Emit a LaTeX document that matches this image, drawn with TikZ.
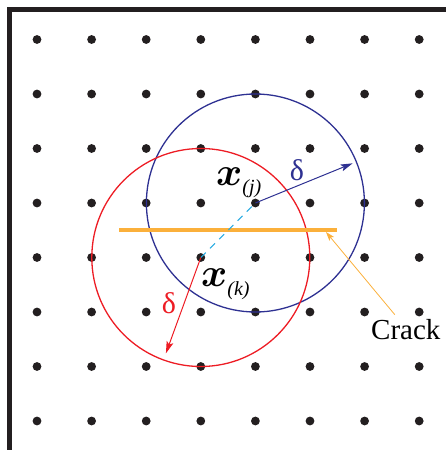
\documentclass[tikz,border=0pt]{standalone}
\usepackage{fontspec}
\setmainfont{Liberation Serif}
\usetikzlibrary{arrows.meta,calc}
\definecolor{cblue}{RGB}{46,49,146}
\definecolor{cred}{RGB}{237,28,36}
\definecolor{corange}{RGB}{251,176,59}
\definecolor{ccyan}{RGB}{39,170,225}
\definecolor{cdot}{RGB}{35,31,32}
\newcommand{\bx}{\scalebox{1.6}{\fontsize{24.88}{26}\selectfont\boldmath$x$}}
\tikzset{
  dot/.style={circle,fill=cdot,inner sep=0pt,minimum size=8.8pt},
  hoodblue/.style={draw=cblue,line width=1.3pt},
  hoodred/.style={draw=cred,line width=1.3pt},
  radarrow/.style={line width=1pt,-{Stealth[length=12pt,width=7pt,inset=2.5pt]}},
  lbl/.style={inner sep=0pt,anchor=base west},
}
\begin{document}
\begin{tikzpicture}[x=1pt,y=-1pt]
\useasboundingbox (0,0) rectangle (446,450);
% frame
\draw[line width=4.5pt,cdot] (9.3,460) -- (9.3,9.3) -- (460,9.3);
% grid of material points
\foreach \i in {0,...,7}{
  \foreach \j in {0,...,7}{
    \node[dot] (d-\i-\j) at ({37+54.6*\i},{39.5+54.5*\j}) {};
  }
}
% horizons
\draw[hoodblue] (d-4-3.center) circle[radius=109pt];
\draw[hoodred] (d-3-4.center) circle[radius=109pt];
% crack
\coordinate (c1) at (119,230);
\coordinate (c2) at (337,230);
\draw[corange,line width=3.3pt] (c1) -- (c2);
% bond
\draw[ccyan,line width=1.1pt,dash pattern=on 7pt off 6pt] (d-3-4.center) -- (d-4-3.center);
% radius arrows
\coordinate (bj) at ([shift={(22.2:105pt)}]d-4-3.center);
\coordinate (rk) at ([shift={(-110:102pt)}]d-3-4.center);
\draw[radarrow,cblue] (d-4-3.center) -- (bj);
\draw[radarrow,cred] (d-3-4.center) -- (rk);
% labels
\node[lbl] (xj) at (216,185) {\bx{\fontsize{20}{22}\selectfont\itshape\raisebox{-8pt}{(j)}}};
\node[lbl] (xk) at (201,286) {\bx{\fontsize{20}{22}\selectfont\itshape\raisebox{-9pt}{(k)}}};
\node[text=cblue,font=\fontsize{30}{32}\selectfont] (dlj) at (297,170) {δ};
\node[text=cred,font=\fontsize{30}{32}\selectfont] (dlk) at (169,303) {δ};
% crack label
\node[lbl,anchor=base,font=\fontsize{29}{32}\selectfont] (crack) at (405.8,339) {Crack};
\coordinate (ctip) at (326,232);
\draw[corange,line width=0.8pt,-{Stealth[length=9pt,width=6pt,inset=2pt]}] ([xshift=-11pt,yshift=4pt]crack.north) -- (ctip);
\end{tikzpicture}
\end{document}
